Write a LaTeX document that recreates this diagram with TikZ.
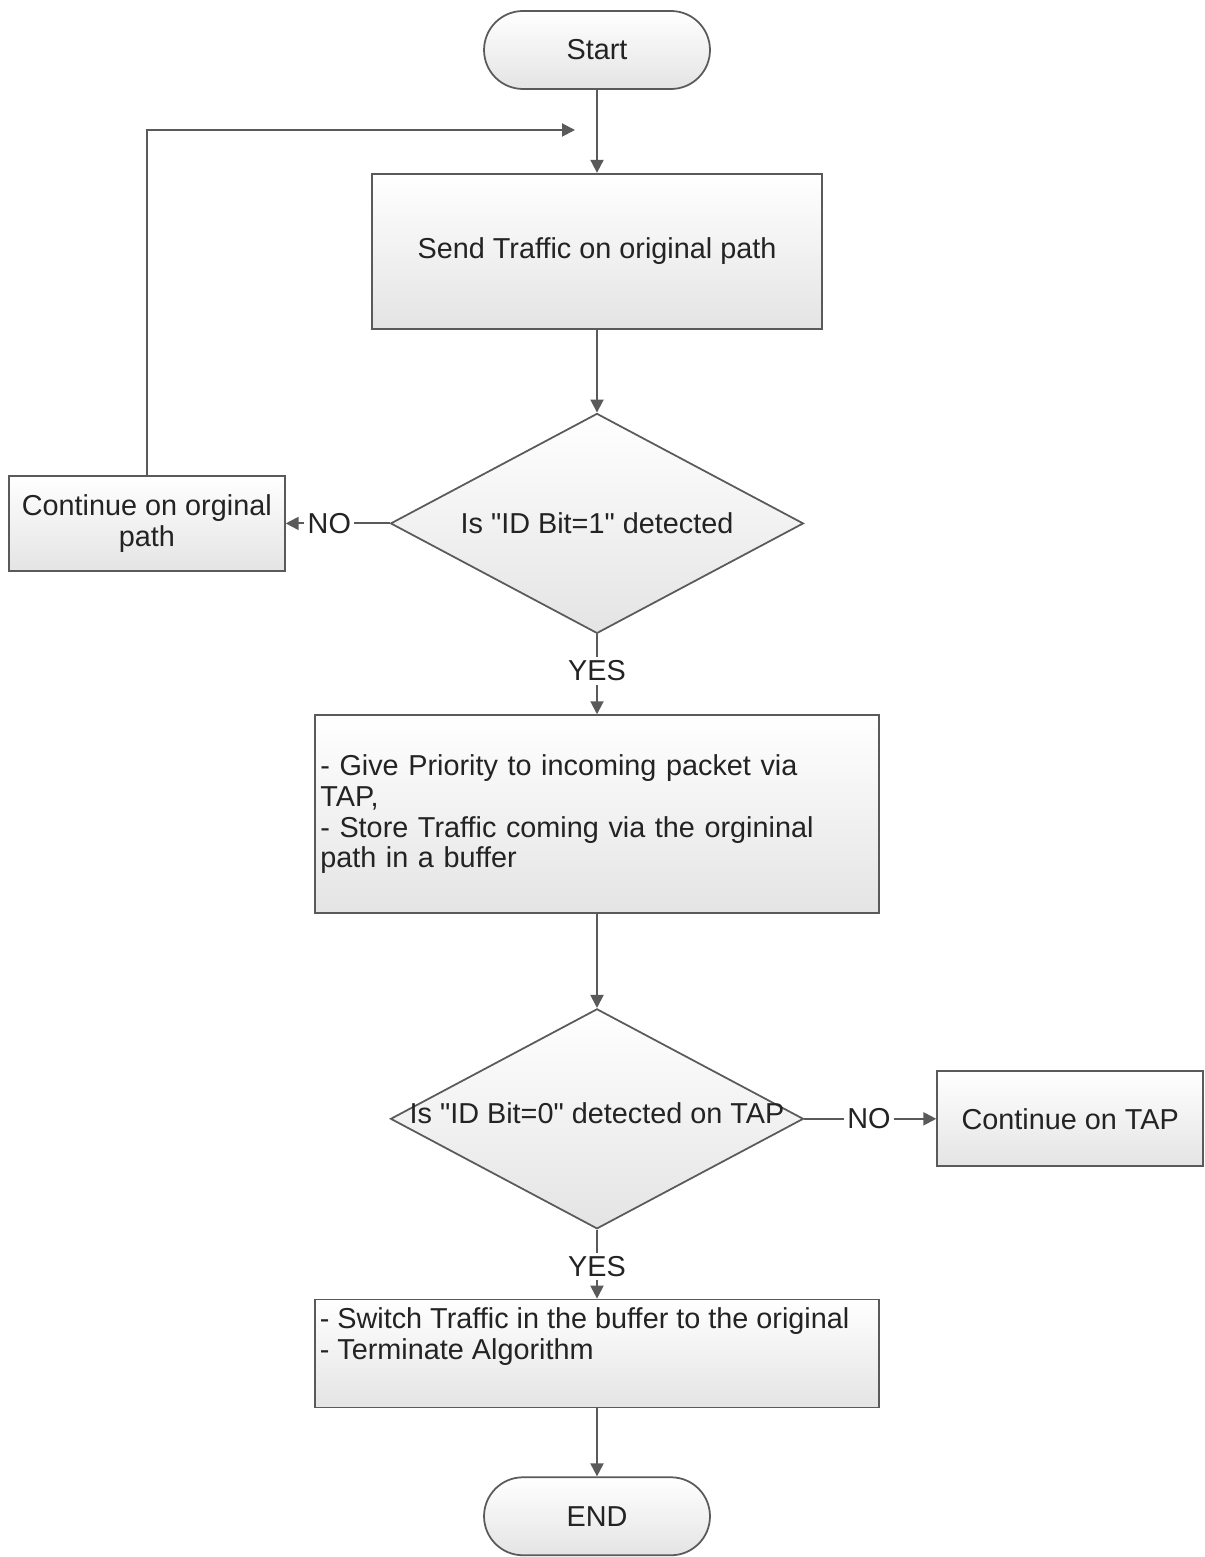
\documentclass[tikz,border=0pt]{standalone}
\usepackage{xcolor}
\usepackage{fontspec}
\setmainfont{Liberation Sans}[Ligatures=TeXOff]
\usepackage{tikz}
\usetikzlibrary{arrows.meta, positioning, shapes}
\definecolor{flowline}{RGB}{90, 90, 90}
\definecolor{flowtext}{RGB}{35, 35, 35}
\definecolor{flowfill}{RGB}{228, 228, 228}

\begin{document}
\begin{tikzpicture}[x=0.02cm, y=-0.02cm, font=\fontsize{16.4}{17.6}\selectfont]
\tikzstyle{terminal} = [rectangle, rounded corners=0.78cm, minimum width=4.52cm, minimum height=1.56cm, text centered, draw=flowline, line width=1pt, top color=white, bottom color=flowfill, text=flowtext]
\tikzstyle{process} = [rectangle, minimum width=9cm, minimum height=3.1cm, text centered, draw=flowline, line width=1pt, top color=white, bottom color=flowfill, text=flowtext]
\tikzstyle{decision} = [diamond, minimum width=8.26cm, minimum height=4.4cm, inner sep=0pt, draw=flowline, line width=1pt, top color=white, bottom color=flowfill, text=flowtext]
\tikzstyle{arrow} = [line width=1.1pt, draw=flowline, -{Triangle[length=0.26cm, width=0.26cm]}]
\tikzstyle{answer} = [fill=white, inner sep=2pt, text=flowtext]

\useasboundingbox (0,0) rectangle (1204,1557);

\node (start) [terminal] at (597,50) {Start};
\node (send) [process, below=1.66cm of start] {Send Traffic on original path};
\node (isone) [decision, below=1.66cm of send] {\makebox[0pt]{Is "ID Bit=1" detected}};
\node (origpath) [process, left=2.08cm of isone, minimum width=5.52cm, minimum height=1.9cm, align=center] {Continue on orginal\\path};
\node (store) [process, below=1.6cm of isone, minimum width=11.28cm, minimum height=3.96cm, inner xsep=3pt, text width=11.07cm, align=left] {- Give Priority to incoming packet via\\TAP,\\- Store Traffic coming via the orgininal\\path in a buffer};
\node (iszero) [decision, below=1.88cm of store] {\raisebox{0.24cm}{\makebox[0pt]{Is "ID Bit=0" detected on TAP}}};
\node (ontap) [process, right=2.64cm of iszero, minimum width=5.32cm, minimum height=1.9cm] {Continue on TAP};
\node (switch) [process, below=1.38cm of iszero, minimum width=11.28cm, minimum height=2.16cm, label={[anchor=north west, align=left, inner xsep=3pt, inner ysep=5pt, text=flowtext]north west:{- Switch Traffic in the buffer to the original\\- Terminate Algorithm}}] {};
\node (finish) [terminal, below=1.36cm of switch] {END};
\coordinate (back) at (575,130);

\draw [arrow] (start) -- (send);
\draw [arrow] (send) -- (isone);
\draw [arrow] (isone.west) -- node[answer, pos=0.58] {NO} (origpath.east);
\draw [arrow] (origpath.north) |- (back);
\draw [arrow] (isone.south) -- node[answer, pos=0.46] {YES} (store.north);
\draw [arrow] (store) -- (iszero);
\draw [arrow] (iszero.east) -- node[answer, pos=0.49] {NO} (ontap.west);
\draw [arrow] (iszero.south) -- node[answer, pos=0.53] {YES} (switch.north);
\draw [arrow] (switch) -- (finish);
\end{tikzpicture}
\end{document}
